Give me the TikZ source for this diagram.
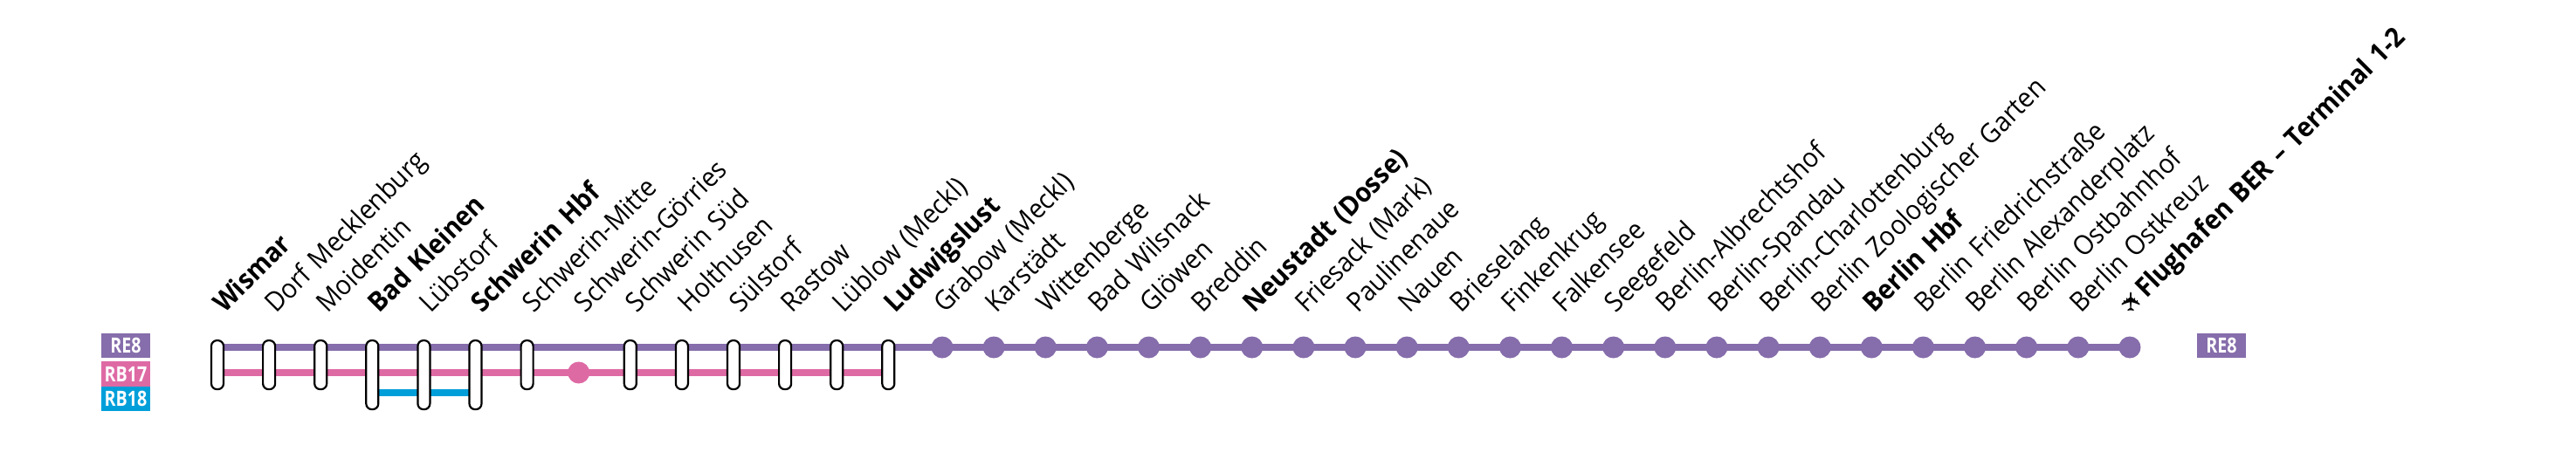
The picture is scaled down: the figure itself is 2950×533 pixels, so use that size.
\documentclass[tikz,border=0pt]{standalone}
\usepackage{fontspec}
\setmainfont{Open Sans}[FakeStretch=0.93,WordSpace=1.35]
\newfontfamily\tagfont[FakeStretch=0.82]{Open Sans}
\newfontfamily\iconfont{DejaVu Sans}
\definecolor{cre}{HTML}{866DAB}
\definecolor{crb}{HTML}{DE6AA4}
\definecolor{crc}{HTML}{009FDA}
\tikzset{
  lineroute/.style={line width=8pt},
  tagbox/.style={minimum width=56pt,inner sep=0pt,text=white,font=\tagfont\bfseries\fontsize{24}{24}\selectfont},
  stopcap/.style={draw=black,fill=white,line width=2.2pt,rounded corners=6.5pt,minimum width=14pt,inner sep=0pt,anchor=north},
  stopshort/.style={stopcap,minimum height=56pt},
  stoplong/.style={stopcap,minimum height=79pt},
  stopdot/.style={circle,inner sep=0pt,minimum size=25pt},
  namelabel/.style={rotate=45,anchor=base west,inner sep=0pt,font=\fontsize{31}{31}\selectfont},
}
\begin{document}
\begin{tikzpicture}[x=1pt,y=-1pt]
\useasboundingbox (0,0) rectangle (2950,533);
\foreach \i in {1,...,38} {
  \pgfmathsetmacro{\xx}{\i<15 ? 249+(\i-1)*59.1 : 1079+(\i-15)*59.13}
  \pgfmathsetmacro{\lx}{\i<15 ? \xx+8 : \xx+3}
  \coordinate (a\i) at (\xx,398);
  \coordinate (b\i) at (\xx,427);
  \coordinate (c\i) at (\xx,450);
  \coordinate (t\i) at (\xx,389);
  \coordinate (l\i) at (\lx,360);
}
\draw[lineroute,cre] (a1) -- (a38);
\draw[lineroute,crb] (b1) -- (b14);
\draw[lineroute,crc] (c4) -- (c6);
\foreach \i in {1,2,3,7,9,10,11,12,13,14} \node[stopshort] (s\i) at (t\i) {};
\foreach \i in {4,5,6} \node[stoplong] (s\i) at (t\i) {};
\node[stopdot,fill=crb] (s8) at (b8) {};
\foreach \i in {15,...,38} \node[stopdot,fill=cre] (s\i) at (a\i) {};
\foreach \i/\t in {
 1/\textbf{Wismar},2/Dorf Mecklenburg,3/Moidentin,4/\textbf{Bad Kleinen},5/Lübstorf,6/\textbf{Schwerin Hbf},
 7/Schwerin-Mitte,8/Schwerin-Görries,9/Schwerin Süd,10/Holthusen,11/Sülstorf,12/Rastow,13/Lüblow (Meckl),
 14/\textbf{Ludwigslust},15/Grabow (Meckl),16/Karstädt,17/Wittenberge,18/Bad Wilsnack,19/Glöwen,20/Breddin,
 21/\textbf{Neustadt (Dosse)},22/Friesack (Mark),23/Paulinenaue,24/Nauen,25/Brieselang,26/Finkenkrug,
 27/Falkensee,28/Seegefeld,29/Berlin-Albrechtshof,30/Berlin-Spandau,31/Berlin-Charlottenburg,
 32/Berlin Zoologischer Garten,33/\textbf{Berlin Hbf},34/Berlin Friedrichstraße,35/Berlin Alexanderplatz,
 36/Berlin Ostbahnhof,37/Berlin Ostkreuz}
  \node[namelabel] (n\i) at (l\i) {\t};
\node[rotate=90,inner sep=0pt,font=\iconfont\fontsize{30}{30}\selectfont] (n38i) at (2441,346) {✈};
\node[namelabel] (n38) at (2458,343) {\textbf{Flughafen BER – Terminal 1-2}};
\node[tagbox,fill=cre,minimum height=28pt] (t1x) at (144,396) {RE8};
\node[tagbox,fill=crb,minimum height=29pt] (t2x) at (144,428.5) {RB17};
\node[tagbox,fill=crc,minimum height=28pt] (t3x) at (144,457) {RB18};
\node[tagbox,fill=cre,minimum height=28pt] (t4x) at (2544,396) {RE8};
\end{tikzpicture}
\end{document}
